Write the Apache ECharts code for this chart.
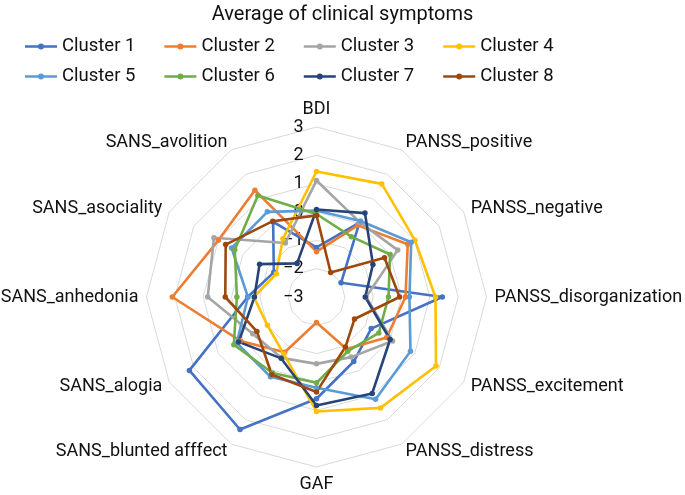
<!DOCTYPE html>
<html><head><meta charset="utf-8">
<script src="https://cdn.jsdelivr.net/npm/echarts@6/dist/echarts.min.js"></script>
<style>html,body{margin:0;padding:0;background:#fff}#c{width:685px;height:495px}</style>
</head><body><div id="c"></div>
<script>
// Indicators in clockwise order starting at the top
const indicators = ['BDI','PANSS_positive','PANSS_negative','PANSS_disorganization','PANSS_excitement','PANSS_distress','GAF','SANS_blunted afffect','SANS_alogia','SANS_anhedonia','SANS_asociality','SANS_avolition'];
const clusterNames = ['Cluster 1','Cluster 2','Cluster 3','Cluster 4','Cluster 5','Cluster 6','Cluster 7','Cluster 8'];
const cluster1 = [-1.25, 0.03, -2.0, 1.44, -0.77, -0.37, 0.59, 2.4, 2.18, -0.57, -1.26, 0.06];
const cluster2 = [-1.4, -0.08, 0.72, 0.14, -0.14, -0.88, -2.1, -0.75, 0.1, 2.09, 1.0, 1.35];
const cluster3 = [1.11, 0.05, 0.31, -1.25, 0.1, -0.55, -0.64, -0.52, -0.4, 0.84, 1.18, -0.8];
const cluster4 = [1.43, 1.61, 1.01, 1.2, 1.87, 1.52, 1.04, -0.68, -1.0, -0.79, -1.36, -0.63];
const cluster5 = [0.05, 0.1, 0.86, 0.28, 0.83, 1.17, 0.2, 0.25, 0.25, -0.58, 0.46, 0.47];
const cluster6 = [-0.07, -0.54, 0.0, -0.46, -0.46, -0.79, 0.03, 0.1, 0.37, -0.19, 0.33, 1.14];
const cluster7 = [0.09, 0.42, -0.7, -1.28, 0.0, 0.93, 0.83, -0.5, 0.17, -0.81, -0.68, -1.63];
const cluster8 = [-0.12, -2.0, -0.23, -0.07, -1.45, -0.96, 0.35, 0.16, -0.57, 0.22, 0.7, 0.09];
const tickLabels = ['\u22123','\u22122','\u22121','0','1','2','3'];
const axisMin = -3, axisMax = 3;

const colors = ['#4472C4','#ED7D31','#A5A5A5','#FFC000','#5B9BD5','#70AD47','#264478','#9E480E'];
const allData = [cluster1, cluster2, cluster3, cluster4, cluster5, cluster6, cluster7, cluster8];

// ECharts lays radar indicators counter-clockwise; reorder to get clockwise layout
const order = [0];
for (let i = indicators.length - 1; i >= 1; i--) order.push(i);

const FONT = 'Roboto';
const indicatorOpts = order.map((idx, k) => {
  const o = { name: indicators[idx], min: axisMin, max: axisMax };
  if (k === 0) {
    o.axisLabel = {
      show: true, color: '#111', fontSize: 18, fontFamily: FONT, margin: 13,
      formatter: function (v) { return tickLabels[Math.round(v - axisMin)]; }
    };
  }
  return o;
});

const legendIcon = 'path://M0,1.75 H32 V4.25 H0 Z M16,0 A3,3 0 1,1 16,6 A3,3 0 1,1 16,0 Z';
const legendBase = {
  icon: legendIcon, itemWidth: 32, itemHeight: 6, itemGap: 29, left: 20,
  textStyle: { fontSize: 18.5, fontFamily: FONT, color: '#111' }
};

const option = {
  animation: false,
  color: colors,
  title: {
    text: 'Average of clinical symptoms', left: 'center', top: 0,
    textStyle: { fontSize: 20, fontWeight: 'normal', fontFamily: FONT, color: '#111' }
  },
  legend: [
    Object.assign({}, legendBase, { data: clusterNames.slice(0, 4), top: 32 }),
    Object.assign({}, legendBase, { data: clusterNames.slice(4, 8), top: 62 })
  ],
  radar: {
    center: [316.5, 297], radius: 170, startAngle: 90, splitNumber: 6, shape: 'polygon',
    indicator: indicatorOpts,
    nameGap: 8,
    axisName: { color: '#111', fontSize: 18, fontFamily: FONT },
    splitLine: { lineStyle: { color: '#d9d9d9', width: 1 } },
    splitArea: { show: false },
    axisLine: { show: false },
    axisTick: { show: false },
    axisLabel: { show: false }
  },
  series: clusterNames.map((n, s) => ({
    type: 'radar', name: n,
    symbol: 'circle', symbolSize: 5.5,
    lineStyle: { width: 2.6, color: colors[s] },
    itemStyle: { color: colors[s] },
    data: [{ name: n, value: order.map(i => allData[s][i]) }]
  }))
};
const chart = echarts.init(document.getElementById('c'), null, { renderer: 'canvas' });
chart.setOption(option);
</script></body></html>
